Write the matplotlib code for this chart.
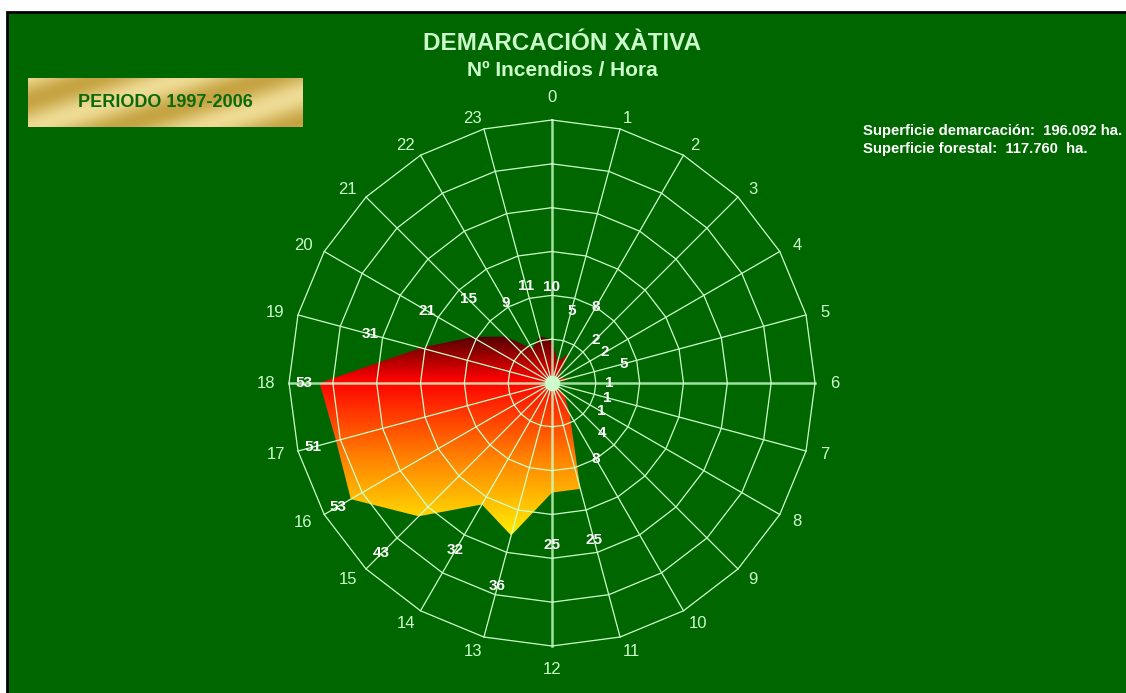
import numpy as np
import matplotlib
matplotlib.use("Agg")
import matplotlib.pyplot as plt
from matplotlib.colors import LinearSegmentedColormap
from matplotlib.patches import Polygon, Rectangle

plt.rcParams['font.family'] = ['Liberation Sans', 'DejaVu Sans']

# ---- data ----
hours = list(range(24))
fires = [10, 5, 8, 2, 2, 5, 1, 1, 1, 4, 8, 25,
         25, 36, 32, 43, 53, 51, 53, 31, 21, 15, 9, 11]
ring_values = [10, 20, 30, 40, 50, 60]

title = "DEMARCACIÓN XÀTIVA"
subtitle = "Nº Incendios / Hora"
period = "PERIODO 1997-2006"
info_lines = ["Superficie demarcación:  196.092 ha.",
              "Superficie forestal:  117.760  ha."]

GREEN = "#006600"
GRID = "#ccffcc"

W, H = 1126, 693
fig = plt.figure(figsize=(W / 100, H / 100), dpi=100)
fig.patch.set_facecolor("white")

# green panel with black frame
fig.patches.append(Rectangle((7 / W, -0.01), 1.0, (H - 12) / H + 0.01,
                             transform=fig.transFigure, facecolor=GREEN,
                             edgecolor="black", linewidth=2, zorder=-10))

# ---- radar axes (manual, cartesian) ----
cx, cy, rpx = 552, 383, 263      # centre and outer radius in pixels
half = 300
rmax = ring_values[-1]
L = half / rpx * rmax
ax = fig.add_axes([(cx - half) / W, (H - cy - half) / H, 2 * half / W, 2 * half / H])
ax.set_aspect("equal")
ax.axis("off")
ax.patch.set_alpha(0)

theta = np.radians(np.array(hours) * 360 / len(hours))
sx, sy = np.sin(theta), np.cos(theta)

# rings
for rv in ring_values:
    ax.plot(np.append(rv * sx, rv * sx[0]), np.append(rv * sy, rv * sy[0]),
            color=GRID, lw=0.9, zorder=3)
# spokes
for i in range(len(hours)):
    main = hours[i] % 6 == 0
    ax.plot([0, rmax * sx[i]], [0, rmax * sy[i]], color=GRID,
            lw=1.8 if main else 0.9, alpha=0.8 if main else 1, zorder=3)

# filled polygon with vertical gradient
v = np.array(fires, dtype=float)
px, py = v * sx, v * sy
poly = Polygon(np.column_stack([px, py]), closed=True, facecolor="none",
               edgecolor="none")
ax.add_patch(poly)
cmap = LinearSegmentedColormap.from_list(
    "fire", [(0.0, "#520000"), (0.22, "#ff0000"), (0.62, "#ff8400"),
             (1.0, "#ffee00")])
grad = np.linspace(0, 1, 256).reshape(-1, 1)
im = ax.imshow(grad, cmap=cmap, aspect="auto", origin="upper",
               extent=[px.min(), px.max(), py.min(), py.max()], zorder=2)
im.set_clip_path(poly)
ax.set_xlim(-L, L)
ax.set_ylim(-L, L)

ax.plot([0], [0], "o", color=GRID, ms=10, zorder=4)

# hour labels, placed just outside the outer ring (offsets in pixels)
for i, h in enumerate(hours):
    w = 7 * len(str(h))
    if abs(sx[i]) < 1e-6:
        off = (0, 23 * np.sign(sy[i]))
    else:
        dy = 11 * sy[i] if sy[i] >= 0 else 15 * sy[i]
        off = (16 * sx[i] + np.sign(sx[i]) * w / 2, dy)
    ax.annotate(str(h), (rmax * sx[i], rmax * sy[i]), xytext=off,
                textcoords="offset pixels", color=GRID, fontsize=12,
                ha="center", va="center", zorder=5)

# value labels
lab_r = np.minimum(v + 12, 56.5)
for i, val in enumerate(fires):
    ax.text(lab_r[i] * sx[i], lab_r[i] * sy[i], str(val), color="white",
            fontsize=11, fontweight="bold", ha="center", va="center", zorder=5)

# ---- titles and boxes ----
fig.text(562 / W, 1 - 44 / H, title, color=GRID, fontsize=17.5,
         fontweight="bold", ha="center", va="center")
fig.text(562 / W, 1 - 71 / H, subtitle, color=GRID, fontsize=15,
         fontweight="bold", ha="center", va="center")

# gold box
bw, bh = 275, 49
gax = fig.add_axes([28 / W, 1 - 127 / H, bw / W, bh / H])
gx, gy = np.meshgrid(np.linspace(0, bw, 300), np.linspace(0, bh, 60))
band = 0.5 + 0.5 * np.cos((gx + gy * 3.0) / 170 * 2 * np.pi + 0.6)
gold = LinearSegmentedColormap.from_list("gold", ["#c6a443", "#eedb94"])
gax.imshow(band, cmap=gold, aspect="auto", extent=[0, 1, 0, 1])
gax.set_xlim(0, 1)
gax.set_ylim(0, 1)
gax.axis("off")
gax.text(0.5, 0.5, period, color="#0a6a0a", fontsize=13, fontweight="bold",
         ha="center", va="center")

for k, line in enumerate(info_lines):
    fig.text(863 / W, 1 - (131 + 18 * k) / H, line, color="white",
             fontsize=10.7, fontweight="bold", ha="left", va="center")

fig.savefig("out.png", dpi=100, facecolor=fig.get_facecolor())
